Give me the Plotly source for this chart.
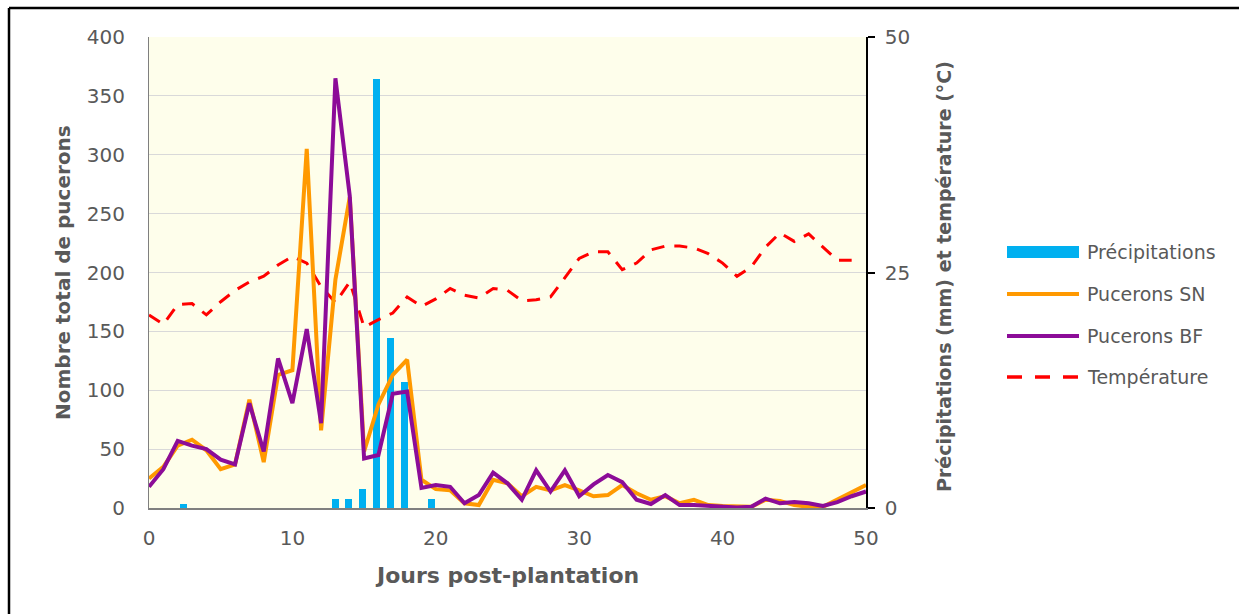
import plotly.graph_objects as go

# ---------------- data ----------------
days = list(range(0, 51))
pucerons_sn = [25, 35, 53, 58, 49, 33, 37, 92, 39, 113, 117, 305, 66, 194, 264, 48, 88, 113, 126, 24,
               16, 15, 4, 2.5, 24, 21, 10, 18, 15, 19.5, 15, 10, 11, 19.5, 12.5, 7, 10, 4, 7, 2.5,
               1.7, 1.7, 1, 7, 6, 2.5, 1, 1, 7, 13.5, 19.5]
pucerons_bf = [18, 33, 57, 53, 50, 41, 37, 89, 48, 127, 89, 152, 72, 365, 265, 42, 45, 97, 99, 17,
               19.5, 18, 4, 11, 30, 21, 7, 32, 14, 32, 10, 20, 28, 22, 7, 3.4, 11, 2.5, 2.5, 1.7,
               0.5, 0.5, 1, 8, 4, 5, 4, 1.7, 5, 10, 14]
temp_days = list(range(0, 50))
temperature = [20.5, 19.5, 21.6, 21.7, 20.5, 21.9, 23.1, 24.0, 24.6, 25.8, 26.7, 26.0, 23.5, 21.8, 24.0,
               19.2, 20.0, 20.7, 22.4, 21.4, 22.2, 23.3, 22.6, 22.3, 23.3, 23.1, 22.0, 22.1, 22.4, 24.4,
               26.5, 27.2, 27.2, 25.3, 26.0, 27.4, 27.8, 27.8, 27.6, 27.0, 26.0, 24.6, 25.6, 27.7, 29.2,
               28.3, 29.1, 27.7, 26.3, 26.3]
precip_idx = [2, 13, 14, 15, 16, 17, 18, 20]          # category index of rainfall bars (52 categories)
precipitations = [0.4, 1, 1, 2, 45.5, 18, 13.4, 1]

left_ticks = [0, 50, 100, 150, 200, 250, 300, 350, 400]
right_ticks = [0, 25, 50]
x_ticks = [0, 10, 20, 30, 40, 50]

legend_names = ["Précipitations", "Pucerons SN", "Pucerons BF", "Température"]

# ---------------- styles ----------------
C_BLUE = "#00B0F0"
C_ORANGE = "#FF9900"
C_PURPLE = "#8C0C98"
C_RED = "#FF0000"
C_TEXT = "#595959"
FONT = "DejaVu Sans"

W, H = 1239, 614
L, R, T, B = 149, 1239 - 866, 37, 614 - 508
PW, PH = W - L - R, H - T - B


def px_x(p):
    return (p - L) / PW


def px_y(p):
    return (H - B - p) / PH


fig = go.Figure()

fig.add_trace(go.Bar(x=precip_idx, y=precipitations, xaxis="x", yaxis="y",
                     marker=dict(color=C_BLUE, line=dict(width=0)), width=0.5,
                     name=legend_names[0], showlegend=False))
fig.add_trace(go.Scatter(x=temp_days, y=temperature, xaxis="x2", yaxis="y", mode="lines",
                         line=dict(color=C_RED, width=3, dash="13px,10px"),
                         name=legend_names[3], showlegend=False))
fig.add_trace(go.Scatter(x=days, y=pucerons_sn, xaxis="x2", yaxis="y2", mode="lines",
                         line=dict(color=C_ORANGE, width=4), name=legend_names[1], showlegend=False))
fig.add_trace(go.Scatter(x=days, y=pucerons_bf, xaxis="x2", yaxis="y2", mode="lines",
                         line=dict(color=C_PURPLE, width=4), name=legend_names[2], showlegend=False))

tickfont = dict(family=FONT, size=20, color=C_TEXT)

fig.update_layout(
    width=W, height=H,
    margin=dict(l=L, r=R, t=T, b=B, pad=0),
    paper_bgcolor="white",
    plot_bgcolor="#FEFEEB",
    showlegend=False,
    bargap=0,
    xaxis=dict(range=[-0.5, 51.5], visible=False, fixedrange=True),
    yaxis=dict(range=[0, 50], side="right", tickvals=right_ticks, showgrid=False, zeroline=False,
               showline=True, linecolor="black", linewidth=1.5, ticks="outside", ticklen=7,
               tickcolor="black", tickwidth=1.5, tickfont=tickfont, ticklabelstandoff=6),
    xaxis2=dict(range=[0, 50], overlaying="x", side="bottom", anchor="y2", tickvals=x_ticks,
                showgrid=False, zeroline=False, showline=True, linecolor="#808080", linewidth=2,
                ticks="", tickfont=tickfont, ticklabelstandoff=11),
    yaxis2=dict(range=[0, 400], overlaying="y", side="left", anchor="x2", tickvals=left_ticks,
                showgrid=True, gridcolor="#D9D9D9", gridwidth=1, zeroline=False,
                showline=True, linecolor="#7F7F7F", linewidth=1, ticks="",
                tickfont=tickfont, ticklabelstandoff=19),
)

annotations = [
    dict(text="<b>Jours post-plantation</b>", x=px_x(507), y=px_y(575), xref="paper", yref="paper",
         xanchor="center", yanchor="middle", showarrow=False,
         font=dict(family=FONT, size=22, color=C_TEXT)),
    dict(text="<b>Nombre total de pucerons</b>", x=px_x(63), y=px_y(273), xref="paper", yref="paper",
         xanchor="center", yanchor="middle", showarrow=False, textangle=-90,
         font=dict(family=FONT, size=20, color=C_TEXT)),
    dict(text="<b>Précipitations (mm) et température (°C)</b>", x=px_x(944), y=px_y(277),
         xref="paper", yref="paper", xanchor="center", yanchor="middle", showarrow=False,
         textangle=-90, font=dict(family=FONT, size=19, color=C_TEXT)),
]

shapes = [
    # chart border (top and left)
    dict(type="line", xref="paper", yref="paper", x0=px_x(9), x1=px_x(W + 5), y0=px_y(8), y1=px_y(8),
         line=dict(color="black", width=2.5)),
    dict(type="line", xref="paper", yref="paper", x0=px_x(9), x1=px_x(9), y0=px_y(8), y1=px_y(H + 5),
         line=dict(color="black", width=2.5)),
]

# custom legend
leg_rows = [252, 294, 336, 377]
sx0, sx1, tx = px_x(1007), px_x(1079), px_x(1085)
shapes.append(dict(type="rect", xref="paper", yref="paper", x0=sx0, x1=sx1,
                   y0=px_y(leg_rows[0] + 6), y1=px_y(leg_rows[0] - 6),
                   fillcolor=C_BLUE, line=dict(width=0)))
shapes.append(dict(type="line", xref="paper", yref="paper", x0=sx0, x1=sx1,
                   y0=px_y(leg_rows[1]), y1=px_y(leg_rows[1]), line=dict(color=C_ORANGE, width=4)))
shapes.append(dict(type="line", xref="paper", yref="paper", x0=sx0, x1=sx1,
                   y0=px_y(leg_rows[2]), y1=px_y(leg_rows[2]), line=dict(color=C_PURPLE, width=4)))
shapes.append(dict(type="line", xref="paper", yref="paper", x0=sx0, x1=sx1,
                   y0=px_y(leg_rows[3]), y1=px_y(leg_rows[3]),
                   line=dict(color=C_RED, width=3.5, dash="15px,13px")))
for name, row in zip(legend_names, leg_rows):
    annotations.append(dict(text=name, x=tx, y=px_y(row), xref="paper", yref="paper",
                            xanchor="left", yanchor="middle", showarrow=False,
                            font=dict(family=FONT, size=19, color=C_TEXT)))

fig.update_layout(annotations=annotations, shapes=shapes)

fig.write_html("out.html")
